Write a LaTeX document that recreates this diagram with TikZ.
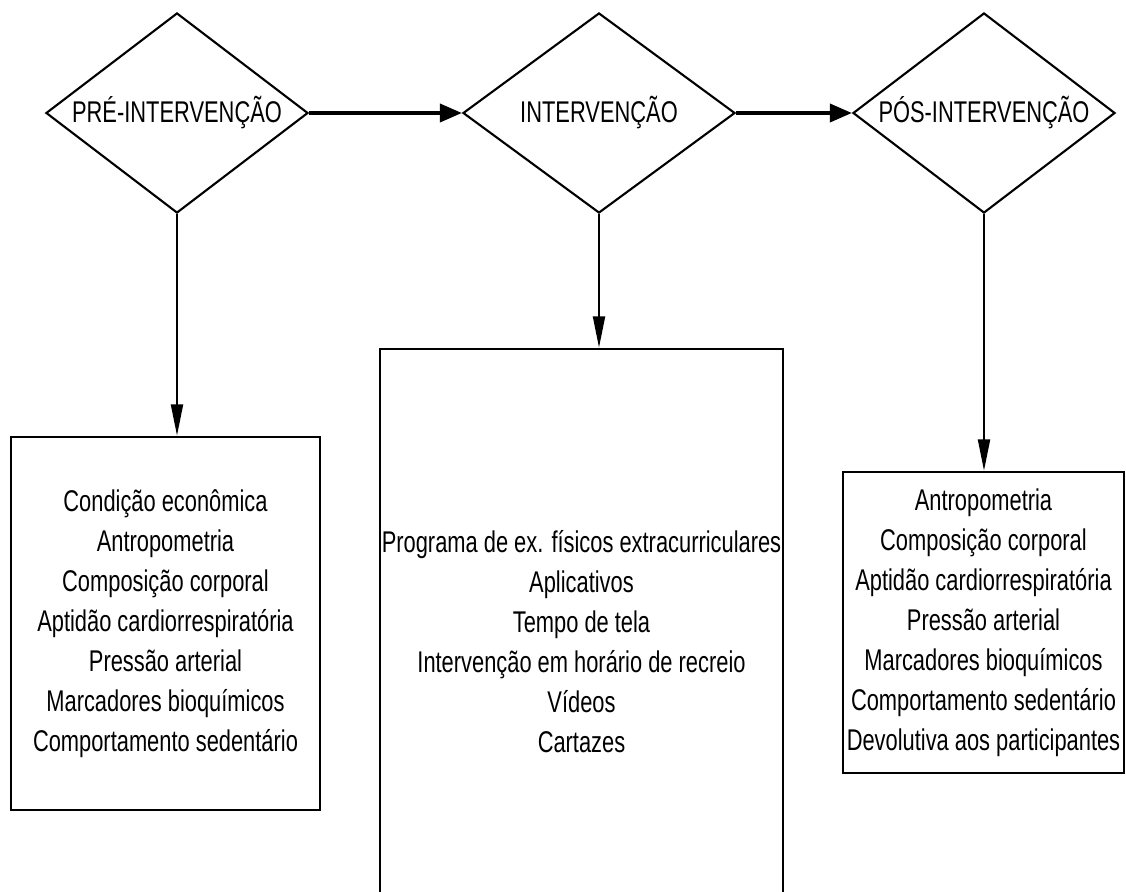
\documentclass[tikz,border=0pt]{standalone}
\usepackage{fontspec}
\setmainfont{Liberation Sans}[FakeStretch=0.73]
\usetikzlibrary{shapes.geometric,arrows.meta}

\begin{document}
\begin{tikzpicture}[x=0.025cm,y=-0.025cm,
		font=\fontsize{21.3}{28.45}\selectfont,
		losango/.style={diamond,draw,line width=1.5pt,inner sep=0pt,shape aspect=1.3,minimum height=5cm},
		caixa/.style={rectangle,draw,line width=1.9pt,inner sep=0pt,align=center},
		seta/.style={line width=2.6pt,-{Triangle[length=0.55cm,width=0.45cm]}},
		setafina/.style={line width=1.4pt,-{Triangle[length=0.78cm,width=0.3cm]}}]
			\useasboundingbox (0,0) rectangle (1126,892);
			\clip (0,0) rectangle (1126,892);
			
			\foreach \nome/\x/\w/\rotulo in {pre/177/6.55/PRÉ-INTERVENÇÃO, inter/599/6.8/INTERVENÇÃO, pos/984/6.55/PÓS-INTERVENÇÃO} {
				\node[losango,minimum width=\w cm] (\nome) at (\x, 113) {\rotulo};
			}
			
			\node[caixa,minimum width=7.725cm,minimum height=9.325cm] (preBox) at (165.5, 623.5)
				{Condição econômica\\Antropometria\\Composição corporal\\Aptidão cardiorrespiratória\\Pressão arterial\\Marcadores bioquímicos\\Comportamento sedentário};
			\node[caixa,minimum width=10.075cm,minimum height=14.65cm] (interBox) at (581.5, 642)
				{Programa de ex. físicos extracurriculares\\Aplicativos\\Tempo de tela\\Intervenção em horário de recreio\\Vídeos\\Cartazes};
			\node[caixa,minimum width=7.025cm,minimum height=7.525cm] (posBox) at (983.5, 622.5)
				{Antropometria\\Composição corporal\\Aptidão cardiorrespiratória\\Pressão arterial\\Marcadores bioquímicos\\Comportamento sedentário\\Devolutiva aos participantes};
			
			\draw[seta] (pre.east) -- (inter.west);
			\draw[seta] (inter.east) -- (pos.west);
			\draw[setafina] (pre.south) -- (pre.south |- preBox.north);
			\draw[setafina] (inter.south) -- (inter.south |- interBox.north);
			\draw[setafina] (pos.south) -- (pos.south |- posBox.north);
		\end{tikzpicture}
\end{document}
